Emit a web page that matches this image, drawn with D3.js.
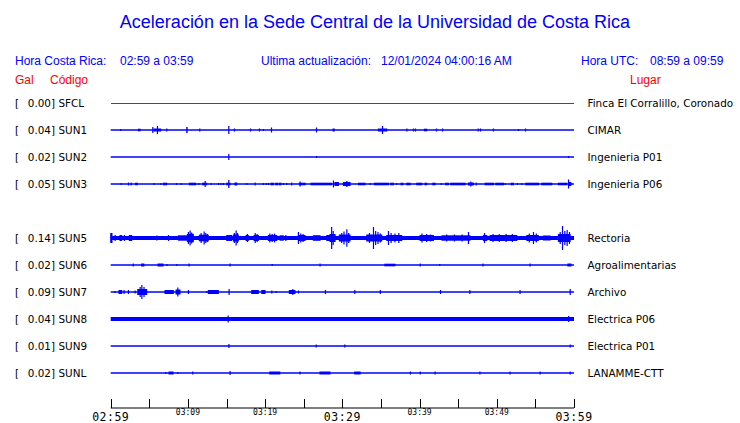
<!DOCTYPE html>
<html><head><meta charset="utf-8">
<script src="https://cdn.jsdelivr.net/npm/d3@7"></script>
<style>body{margin:0;background:#fff}svg{display:block}</style>
</head><body><svg id="c" width="740" height="423"></svg>
<script>
// ---------- data ----------
const titleText = "Aceleración en la Sede Central de la Universidad de Costa Rica";
const localRange = "02:59 a 03:59";
const utcRange = "08:59 a 09:59";
const updated = "12/01/2024 04:00:16 AM";
const codes  = ["SFCL","SUN1","SUN2","SUN3","SUN5","SUN6","SUN7","SUN8","SUN9","SUNL"];
const slots  = [0,1,2,3,5,6,7,8,9,10];               // SUN4 slot left empty
const gals   = [0.00,0.04,0.02,0.05,0.14,0.02,0.09,0.04,0.01,0.02];
const places = ["Finca El Corralillo, Coronado","CIMAR","Ingenieria P01","Ingenieria P06","Rectoria","Agroalimentarias","Archivo","Electrica P06","Electrica P01","LANAMME-CTT"];
const baseAmp = [0,0,0,0,2,0,0,2,0,0];               // background noise level (relative)
const tickMinutes = [0,5,10,15,20,25,30,35,40,45,50,55,60];
const tickLabels = {0:"02:59",10:"03:09",20:"03:19",30:"03:29",40:"03:39",50:"03:49",60:"03:59"};
const majorLabels = [0,30,60];
// bursts: [start minute, end minute, relative amplitude]
const sfclEvents = [];
const sun1Events = [[1.29,1.29,1],[3.58,3.80,1.3],[5.44,5.44,3],[5.61,5.83,1.5],[5.95,6.47,1.5],[6.04,6.04,4],[7.25,7.25,1.5],[9.84,9.9,3],[11.52,11.52,1.5],[15.28,15.28,4],[16.01,16.01,1.5],[18.09,18.09,1.5],[19.25,19.25,1.5],[19.77,19.77,1],[20.81,20.81,2.5],[26.64,26.64,2.5],[28.8,28.95,1.5],[34.67,35.75,1.5],[35.19,35.19,4],[38.34,38.34,1.5],[39.2,39.2,1.5],[39.46,39.46,1.5],[40.63,40.93,1.3],[42.18,42.18,1.5],[42.96,42.96,1.5],[47.58,47.58,1.5],[47.88,47.88,1.5],[49.56,49.56,1.5],[52.8,52.8,1],[53.71,53.71,1.5]];
const sun2Events = [[15.28,15.28,3],[26.64,26.64,1],[59.28,59.28,1]];
const sun3Events = [[1.33,1.33,1],[2.28,2.28,1.5],[2.63,2.63,1.5],[3.23,3.45,1.3],[5.61,5.61,1],[6.47,6.47,1],[6.82,7.25,1.3],[8.5,8.5,1],[9.11,9.11,1],[10.19,11.01,1.3],[11.4,11.4,1],[11.91,12.43,1.3],[12.22,12.22,3],[12.99,12.99,1],[13.94,13.94,1],[14.24,14.24,1],[14.59,14.59,1],[15.02,15.45,1.3],[15.28,15.28,4],[16.1,16.32,1.5],[17.61,17.61,1],[18.69,18.69,1.5],[19.77,19.77,1],[20.1,20.1,1],[20.42,20.42,1],[20.76,21.07,1.3],[21.37,21.63,1.3],[21.84,22.06,1.3],[22.36,22.36,1],[22.79,22.79,1],[23.44,23.44,1.5],[24.43,25.17,1.3],[24.52,24.52,2.5],[25.95,28.62,1.3],[28.84,28.84,3.5],[29.05,29.49,2],[30.13,31.0,2],[30.57,30.57,3],[32.08,32.94,1.3],[33.59,33.59,1],[34.15,35.96,1.3],[36.27,36.61,1.3],[37.04,37.04,1],[37.6,37.82,1.3],[38.34,38.77,1.3],[39.63,40.28,1.3],[40.71,40.93,1.3],[41.71,42.01,1.3],[42.79,42.79,1],[43.39,43.73,1.3],[44.04,45.89,1.3],[46.33,46.97,1.5],[46.63,46.63,2.5],[47.32,47.32,1.5],[48.49,49.56,1.3],[49.87,50.86,1.3],[51.08,51.08,1],[51.85,52.15,1.3],[52.67,52.67,1],[53.23,53.23,1],[53.75,55.39,1.3],[55.83,57.12,1.3],[57.98,59.06,1.3],[59.28,59.28,4.5],[59.3,59.6,2]];
const sun5Events = [[0.0,0.17,5],[0.56,0.56,3],[1.2,1.42,3],[1.77,1.77,3],[2.41,2.72,3],[5.96,5.96,2.5],[7.47,7.47,3],[8.76,9.84,2.7],
  [9.93,10.7,4],[10.05,10.05,6],[10.27,10.27,7.5],[10.45,10.45,5.5],[10.6,10.6,4.5],
  [11.48,12.64,3.3],[11.7,11.7,5],[12.09,12.09,6.5],[12.3,12.3,5],[12.5,12.5,4],
  [15.03,15.67,3],[15.89,16.53,3.5],[16.0,16.0,5],[16.23,16.23,7.5],[16.4,16.4,5],
  [17.53,17.82,3],[17.7,17.7,4],[18.56,19.12,3],[18.7,18.7,5],[18.95,18.95,4],
  [20.41,21.5,3],[20.6,20.6,4.5],[20.9,20.9,4],[21.2,21.2,4.5],[21.93,22.36,2.7],[22.67,22.67,3],
  [24.3,25.17,3],[24.3,24.3,6],[24.6,24.6,4.5],[24.9,24.9,4],[26.24,27.11,2.8],[27.98,28.4,3],
  [28.4,29.06,4],[28.6,28.6,11],[28.8,28.8,7],
  [29.61,31.0,3.5],[29.9,29.9,5],[30.2,30.2,6.5],[30.57,30.57,8.7],[30.8,30.8,5],
  [33.16,35.1,3.5],[33.5,33.5,5],[34.02,34.02,11],[34.3,34.3,7],[34.6,34.6,6],[34.9,34.9,4.5],
  [35.75,37.69,3],[35.96,35.96,7],[36.3,36.3,5],[36.8,36.8,4.5],[37.3,37.3,5],
  [40.06,41.79,3],[40.3,40.3,4.5],[40.9,40.9,4],[41.4,41.4,3.5],
  [42.88,46.54,2.7],[43.5,43.5,3.5],[44.5,44.5,3.5],[45.5,45.5,3.5],[46.32,46.32,6],
  [48.26,48.7,3],[48.4,48.4,5],[49.13,52.59,3],[49.5,49.5,4],[50.3,50.3,4],[51.2,51.2,4],[52.0,52.0,4],
  [53.89,55.39,3],[54.2,54.2,4.5],[54.74,54.74,6],[55.1,55.1,4.5],[56.04,56.9,2.5],
  [57.98,59.5,4],[58.2,58.2,6],[58.5,58.5,12],[58.8,58.8,7],[59.1,59.1,8],[59.4,59.4,6]];
const sun6Events = [[2.9,2.9,1.5],[4.0,4.3,1.5],[6.13,6.77,1.5],[7.29,7.29,1],[8.55,8.55,1],[10.14,10.14,1.5],[15.45,15.45,1.5],[20.9,20.9,1],[27.1,27.1,1.5],[35.5,36.8,1.3],[40.07,40.07,1.5],[42.6,42.6,1],[48.2,48.2,1.5],[54.3,54.3,1.5],[59.2,59.6,1.5]];
const sun7Events = [[0.56,0.56,1],[1.08,1.42,2],[1.72,1.72,2],[2.28,2.28,2],[3.15,3.15,1.5],[3.5,4.66,3],[3.8,3.8,5],[4.02,4.02,7],[4.3,4.3,5],[7.03,8.11,2],[8.46,8.98,2.5],[8.68,8.68,4.5],[10.05,10.05,2],[12.43,12.43,1],[12.64,13.94,2],[15.32,15.32,3],[18.26,19.12,2],[19.56,19.99,2],[20.85,20.85,1.5],[21.41,21.41,1],[23.13,23.87,2],[23.57,23.57,3],[24.3,24.3,1.5],[27.8,27.8,2],[31.6,31.6,2],[34.9,34.9,2],[42.7,42.7,2],[46.5,46.5,2],[53.0,53.0,2],[59.5,59.5,3]];
const sun8Events = [[15.2,15.2,3.5],[59.3,59.3,3]];
const sun9Events = [[15.3,15.3,2],[26.6,26.6,1.5],[30.3,30.3,1.5],[59.5,59.5,1.5]];
const sunlEvents = [[7.12,7.12,1],[7.55,8.07,1.5],[8.68,8.68,1],[10.62,10.62,1.5],[15.45,15.45,2],[20.6,21.9,1.5],[24.5,24.5,1.5],[27.1,28.4,1.5],[31.6,32.3,1.5],[38.8,38.8,1.5],[40.07,40.07,1.5],[42,42,1.5],[47.8,47.8,1.5],[51.7,51.7,1.5],[55.6,55.6,1.5],[59.5,59.5,1.5]];
const allEvents = [sfclEvents,sun1Events,sun2Events,sun3Events,sun5Events,sun6Events,sun7Events,sun8Events,sun9Events,sunlEvents];
const traceColors = ["#ff0000","#0000ff","#0000ff","#0000ff","#0000ff","#0000ff","#0000ff","#0000ff","#0000ff","#0000ff"];

// ---------- drawing ----------
const svg = d3.select("#c");
const BLUE = "#0000ff", RED = "#ff0000";
const x = d3.scaleLinear().domain([0,60]).range([110.7,574]);
const y = d3.scaleLinear().domain([0,10]).range([103,373]);
const amp = d3.scaleLinear().domain([0,10]).range([0,10]);

svg.append("text").attr("x",375).attr("y",28).attr("text-anchor","middle")
  .attr("font-family","Liberation Sans, Arial, sans-serif").attr("font-size",18).attr("fill",BLUE).text(titleText);

const hdr = svg.append("g").attr("font-family","Liberation Sans, Arial, sans-serif").attr("font-size",12).attr("fill",BLUE);
hdr.append("text").attr("x",15).attr("y",65).text("Hora Costa Rica:");
hdr.append("text").attr("x",120).attr("y",65).text(localRange);
hdr.append("text").attr("x",261).attr("y",65).text("Ultima actualización:");
hdr.append("text").attr("x",381).attr("y",65).text(updated);
hdr.append("text").attr("x",581).attr("y",65).text("Hora UTC:");
hdr.append("text").attr("x",650).attr("y",65).text(utcRange);
const red = svg.append("g").attr("font-family","Liberation Sans, Arial, sans-serif").attr("font-size",12).attr("fill",RED);
red.append("text").attr("x",15).attr("y",84).text("Gal");
red.append("text").attr("x",50).attr("y",84).text("Código");
red.append("text").attr("x",630).attr("y",84).text("Lugar");

const rows = svg.append("g").selectAll("g").data(codes).join("g")
  .attr("transform",(d,i)=>`translate(0,${y(slots[i])})`);
rows.each(function(d,i){
  const g = d3.select(this);
  const t = (tx,anchor,s)=>g.append("text").attr("x",tx).attr("y",4).attr("text-anchor",anchor)
     .attr("font-family","DejaVu Sans, sans-serif").attr("font-size",10.4).attr("fill","#000").text(s);
  t(15,"start","[");
  t(55,"end",d3.format(".2f")(gals[i])+"]");
  t(58.5,"start",d);
  t(587.5,"start",places[i]);
  const col = traceColors[i];
  const b = baseAmp[i];
  if (b>0) {
    g.append("rect").attr("x",x(0)).attr("width",x(60)-x(0)).attr("y",-amp(b)).attr("height",2*amp(b)).attr("fill",col);
  } else if (i===0) {
    g.append("line").attr("x1",x(0)).attr("x2",x(60)).attr("y1",0.5).attr("y2",0.5).attr("stroke",col)
      .attr("stroke-width",1).attr("shape-rendering","crispEdges");
  } else {
    g.append("line").attr("x1",x(0)).attr("x2",x(60)).attr("y1",0).attr("y2",0).attr("stroke",col)
      .attr("stroke-width",1.4);
  }
  g.selectAll("rect.ev").data(allEvents[i]).join("rect").attr("class","ev")
    .attr("x",e=>x(e[0])-0.5).attr("width",e=>Math.max(1.2,x(e[1])-x(e[0])+1))
    .attr("y",e=>-amp(e[2])).attr("height",e=>2*amp(e[2])).attr("fill",col);
});

// axis
const ax = svg.append("g");
ax.append("line").attr("x1",x(0)).attr("x2",x(60)).attr("y1",408).attr("y2",408).attr("stroke","#000").attr("stroke-width",1);
ax.selectAll("line.tk").data(tickMinutes).join("line").attr("class","tk")
  .attr("x1",d=>Math.round(x(d))+0.5).attr("x2",d=>Math.round(x(d))+0.5).attr("y1",399).attr("y2",408).attr("stroke","#000");
ax.selectAll("text.tl").data(Object.keys(tickLabels).map(Number)).join("text").attr("class","tl")
  .attr("x",d=>x(d)).attr("text-anchor","middle")
  .attr("y",d=>majorLabels.includes(d)?420.7:414.5)
  .attr("font-family","DejaVu Sans Mono, monospace")
  .attr("font-size",d=>majorLabels.includes(d)?11.5:8)
  .attr("letter-spacing",d=>majorLabels.includes(d)?0.5:0)
  .attr("fill","#000").text(d=>tickLabels[d]);
</script></body></html>
